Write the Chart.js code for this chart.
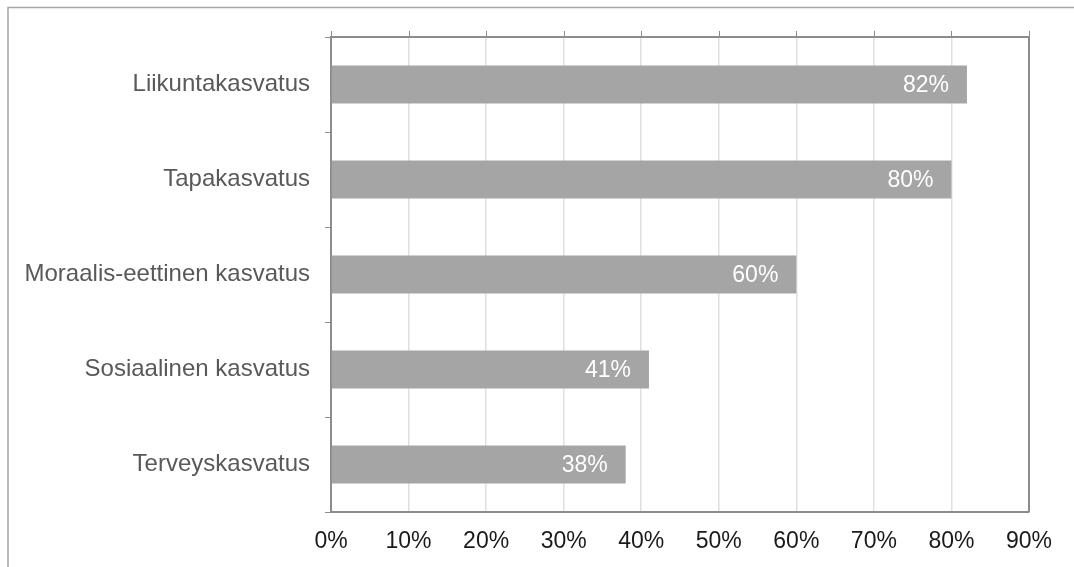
<!DOCTYPE html>
<html lang="fi">
<head>
    <meta charset="UTF-8">
    <title>Kasvatusalueet</title>
    <style>
        html, body { margin: 0; padding: 0; background: #fff; }
        #wrap { width: 1074px; height: 567px; }
    </style>
    <script src="https://cdn.jsdelivr.net/npm/chart.js"></script>
</head>
<body>
<div id="wrap"><canvas id="chart"></canvas></div>
<script>
    // Kasvatuksen osa-alueet ja osuudet (%)
    const categories = [
        'Liikuntakasvatus',
        'Tapakasvatus',
        'Moraalis-eettinen kasvatus',
        'Sosiaalinen kasvatus',
        'Terveyskasvatus'
    ];
    const shares = [82, 80, 60, 41, 38];
    const xTicks = [0, 10, 20, 30, 40, 50, 60, 70, 80, 90];

    const axisGray = '#8c8c8c';
    const fontFamily = '"Liberation Sans", Arial, sans-serif';

    // Kehys kuvan ylä- ja vasempaan reunaan sekä kuvaajan ylä- ja oikea reuna
    const framePlugin = {
        id: 'frame',
        beforeDraw(chart) {
            const ctx = chart.ctx;
            ctx.save();
            ctx.strokeStyle = '#a6a6a6';
            ctx.lineWidth = 1.5;
            ctx.beginPath();
            ctx.moveTo(8, 567);
            ctx.lineTo(8, 7.5);
            ctx.lineTo(1074, 7.5);
            ctx.stroke();
            ctx.restore();
        },
        afterDatasetsDraw(chart) {
            const ctx = chart.ctx;
            const a = chart.chartArea;
            ctx.save();
            ctx.strokeStyle = axisGray;
            ctx.lineWidth = 2;
            ctx.beginPath();
            ctx.moveTo(a.left, a.top);
            ctx.lineTo(a.right, a.top);
            ctx.lineTo(a.right, a.bottom);
            ctx.stroke();
            // pienet merkit yläreunaan
            ctx.lineWidth = 1;
            const xs = chart.scales.x;
            xTicks.forEach(v => {
                const px = Math.round(xs.getPixelForValue(v)) + 0.5;
                ctx.beginPath();
                ctx.moveTo(px, a.top - 6);
                ctx.lineTo(px, a.top);
                ctx.stroke();
            });
            ctx.restore();
        }
    };

    // Arvot palkkien sisälle oikeaan päähän
    const valueLabels = {
        id: 'valueLabels',
        afterDatasetsDraw(chart) {
            const ctx = chart.ctx;
            const meta = chart.getDatasetMeta(0);
            ctx.save();
            ctx.fillStyle = '#ffffff';
            ctx.font = '23px ' + fontFamily;
            ctx.textAlign = 'right';
            ctx.textBaseline = 'middle';
            meta.data.forEach((bar, i) => {
                ctx.fillText(shares[i] + '%', bar.x - 18, bar.y + 1);
            });
            ctx.restore();
        }
    };

    new Chart(document.getElementById('chart'), {
        type: 'bar',
        data: {
            labels: categories,
            datasets: [{
                data: shares,
                backgroundColor: '#a5a5a5',
                barPercentage: 0.8,
                categoryPercentage: 0.5
            }]
        },
        options: {
            indexAxis: 'y',
            responsive: true,
            maintainAspectRatio: false,
            animation: false,
            layout: { padding: { top: 37, right: 45, left: 0, bottom: 0 } },
            plugins: {
                legend: { display: false },
                tooltip: { enabled: false }
            },
            scales: {
                x: {
                    min: 0,
                    max: 90,
                    afterBuildTicks(scale) {
                        scale.ticks = xTicks.map(v => ({ value: v }));
                    },
                    afterFit(scale) { scale.height = 55; },
                    ticks: {
                        callback: v => v + '%',
                        color: '#1a1a1a',
                        font: { family: fontFamily, size: 23 },
                        padding: 16,
                        maxRotation: 0,
                        autoSkip: false
                    },
                    grid: {
                        color: '#e0e0e0',
                        lineWidth: 1.5,
                        drawTicks: false
                    },
                    border: { color: axisGray, width: 2 }
                },
                y: {
                    afterFit(scale) { scale.width = 331; },
                    ticks: {
                        color: '#595959',
                        font: { family: fontFamily, size: 24 },
                        padding: 15
                    },
                    grid: {
                        offset: true,
                        drawOnChartArea: false,
                        drawTicks: true,
                        tickLength: 6,
                        color: axisGray,
                        lineWidth: 1
                    },
                    border: { color: axisGray, width: 2 }
                }
            }
        },
        plugins: [framePlugin, valueLabels]
    });
</script>
</body>
</html>
